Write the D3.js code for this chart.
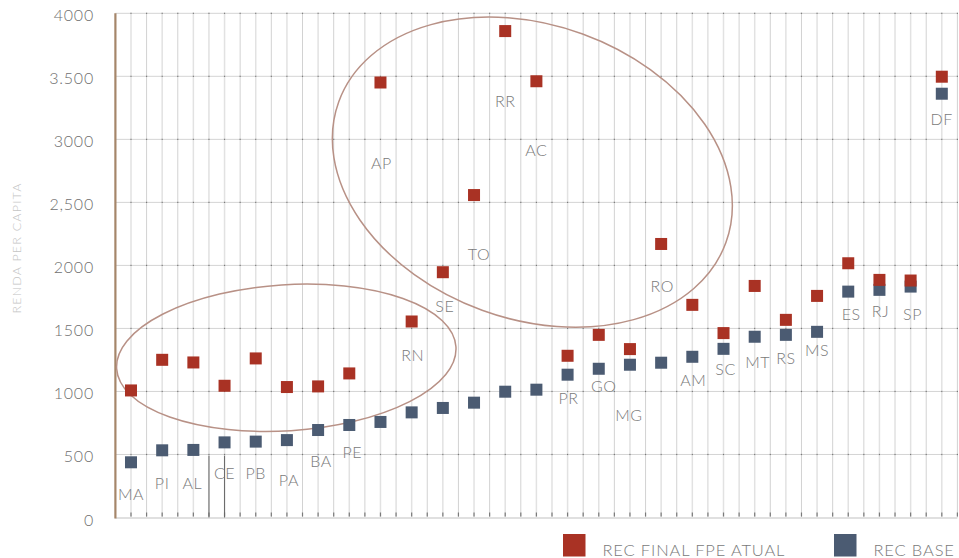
<!DOCTYPE html>
<html><head><meta charset="utf-8">
<script src="https://cdn.jsdelivr.net/npm/d3@7"></script>
<style>
html,body{margin:0;padding:0;background:#fff;}
svg{display:block;}
text{font-family:"Lato","Open Sans",sans-serif;font-weight:300;}
</style></head>
<body>
<svg id="chart" width="959" height="558"></svg>
<script>
const categories = ["MA","PI","AL","CE","PB","PA","BA","PE","AP","RN","SE","TO","RR","AC","PR","GO","MG","RO","AM","SC","MT","RS","MS","ES","RJ","SP","DF"];
const recFinal = [1008,1251,1230,1045,1262,1035,1040,1143,3451,1555,1946,2558,3859,3461,1283,1449,1336,2170,1687,1463,1837,1568,1758,2017,1885,1880,3497];
const recBase  = [438,533,536,596,602,614,694,734,758,834,869,911,998,1014,1133,1180,1212,1228,1275,1338,1434,1449,1473,1792,1806,1832,3362];
const yTicks = [0,500,1000,1500,2000,2500,3000,3500,4000];
const yTickLabels = ["0","500","1000","1500","2000","2,500","3000","3.500","4000"];
// label annotations: baseline in data units and small horizontal nudge
const labelAt = [135,227,230,309,309,253,402,473,2762,1238,1632,2043,3253,2869,903,992,763,1788,1045,1133,1186,1217,1283,1563,1590,1568,3113];
const labelNudge = [0,0,-1,0,0,2,3,3,1,1,2,5,0,0,1,5,-1,1,1,2,3,0,0,3,1,2,0];
const seriesNames = ["REC FINAL FPE ATUAL","REC BASE"];
const colors = ["#a93224","#4b5b72"];

const svg = d3.select("#chart");
const x = d3.scalePoint().domain(categories).range([115.4, 957.4]).padding(0.5);
const step = x.step();
const y = d3.scaleLinear().domain([0,4000]).range([517.5, 13.3]);
const left = 115.4, right = 957.4;

// grid: horizontal
const g = svg.append("g");
g.selectAll("line.h").data(yTicks.filter(d=>d>0)).join("line")
  .attr("x1", left).attr("x2", right).attr("y1", d=>y(d)).attr("y2", d=>y(d))
  .attr("stroke","#d4d4d4").attr("stroke-width",1);
// vertical: category lines and midlines
g.selectAll("line.vc").data(categories).join("line")
  .attr("x1", d=>x(d)).attr("x2", d=>x(d)).attr("y1", y(4000)).attr("y2", y(0))
  .attr("stroke","#e2e2e2").attr("stroke-width",1.5);
g.selectAll("line.vm").data(categories).join("line")
  .attr("x1", d=>x(d)+step/2).attr("x2", d=>x(d)+step/2).attr("y1", y(4000)).attr("y2", y(0))
  .attr("stroke","#d2d2d2").attr("stroke-width",1);
// tick dots at intersections
const allV = [];
categories.forEach(c=>{allV.push(x(c)); allV.push(x(c)+step/2);});
yTicks.forEach(t=>{
  g.selectAll(null).data(allV).join("rect")
    .attr("x", d=>d-0.6).attr("y", t===0 ? y(0)-5 : y(t)-0.6)
    .attr("width",1.2).attr("height", t===0 ? 4 : 1.2)
    .attr("fill","#7a7a7a");
});
// baseline
g.append("line").attr("x1",left).attr("x2",right).attr("y1",y(0)+0.5).attr("y2",y(0)+0.5)
  .attr("stroke","#e0e0e0").attr("stroke-width",2);
// dark leader lines near CE
[x("AL")+step/2, x("CE")].forEach(px=>{
  g.append("line").attr("x1",px).attr("x2",px).attr("y1",y(490)).attr("y2",y(0))
    .attr("stroke","#666").attr("stroke-width",1);
});
// y axis line
g.append("line").attr("x1",left).attr("x2",left).attr("y1",y(4000)).attr("y2",y(0)+1)
  .attr("stroke","#a5866a").attr("stroke-width",2.2);

// y tick labels
svg.append("g").selectAll("text").data(yTicks).join("text")
  .attr("x", 94).attr("y", d=>y(d)+8).attr("text-anchor","end")
  .attr("font-size",16).attr("letter-spacing",0.8).attr("fill","#6f6f6f")
  .text((d,i)=>yTickLabels[i]);

// axis title
svg.append("text").attr("transform","translate(21,248) rotate(-90)")
  .attr("text-anchor","middle").attr("font-size",12.5).attr("letter-spacing",1.2)
  .attr("fill","#c4c4c4").text("RENDA PER CAPITA");

// ellipses
function xi(i){ return x(categories[0]) + i*step; }
const ell = svg.append("g").attr("fill","none").attr("stroke","#b89186").attr("stroke-width",1.5);
ell.append("ellipse").attr("cx",0).attr("cy",0).attr("rx",206).attr("ry",147)
  .attr("transform",`translate(${xi(12.87)},${y(2740)}) rotate(20)`);
ell.append("ellipse").attr("cx",0).attr("cy",0).attr("rx",170).attr("ry",73)
  .attr("transform",`translate(${xi(4.98)},${y(1267)}) rotate(-3.7)`);

// markers
const sz = 12;
svg.append("g").selectAll("rect").data(recBase).join("rect")
  .attr("x",(d,i)=>x(categories[i])-sz/2).attr("y",d=>y(d)-sz/2)
  .attr("width",sz).attr("height",sz).attr("fill",colors[1]);
svg.append("g").selectAll("rect").data(recFinal).join("rect")
  .attr("x",(d,i)=>x(categories[i])-sz/2).attr("y",d=>y(d)-sz/2)
  .attr("width",sz).attr("height",sz).attr("fill",colors[0]);

// category labels
svg.append("g").selectAll("text").data(categories).join("text")
  .attr("x",(d,i)=>x(d)+labelNudge[i]).attr("y",(d,i)=>y(labelAt[i]))
  .attr("text-anchor","middle").attr("font-size",16).attr("letter-spacing",0.6)
  .attr("fill","#7a7a7a").text(d=>d);

// legend
const leg = svg.append("g");
const legX = [563, 834];
seriesNames.forEach((n,i)=>{
  leg.append("rect").attr("x",legX[i]).attr("y",534).attr("width",22.5).attr("height",22.5).attr("fill",colors[i]);
  leg.append("text").attr("x",legX[i]+39.5).attr("y",555.5).attr("font-size",16.5)
    .attr("letter-spacing",0.85).attr("fill","#7a7a7a").text(n);
});
</script>
</body></html>
